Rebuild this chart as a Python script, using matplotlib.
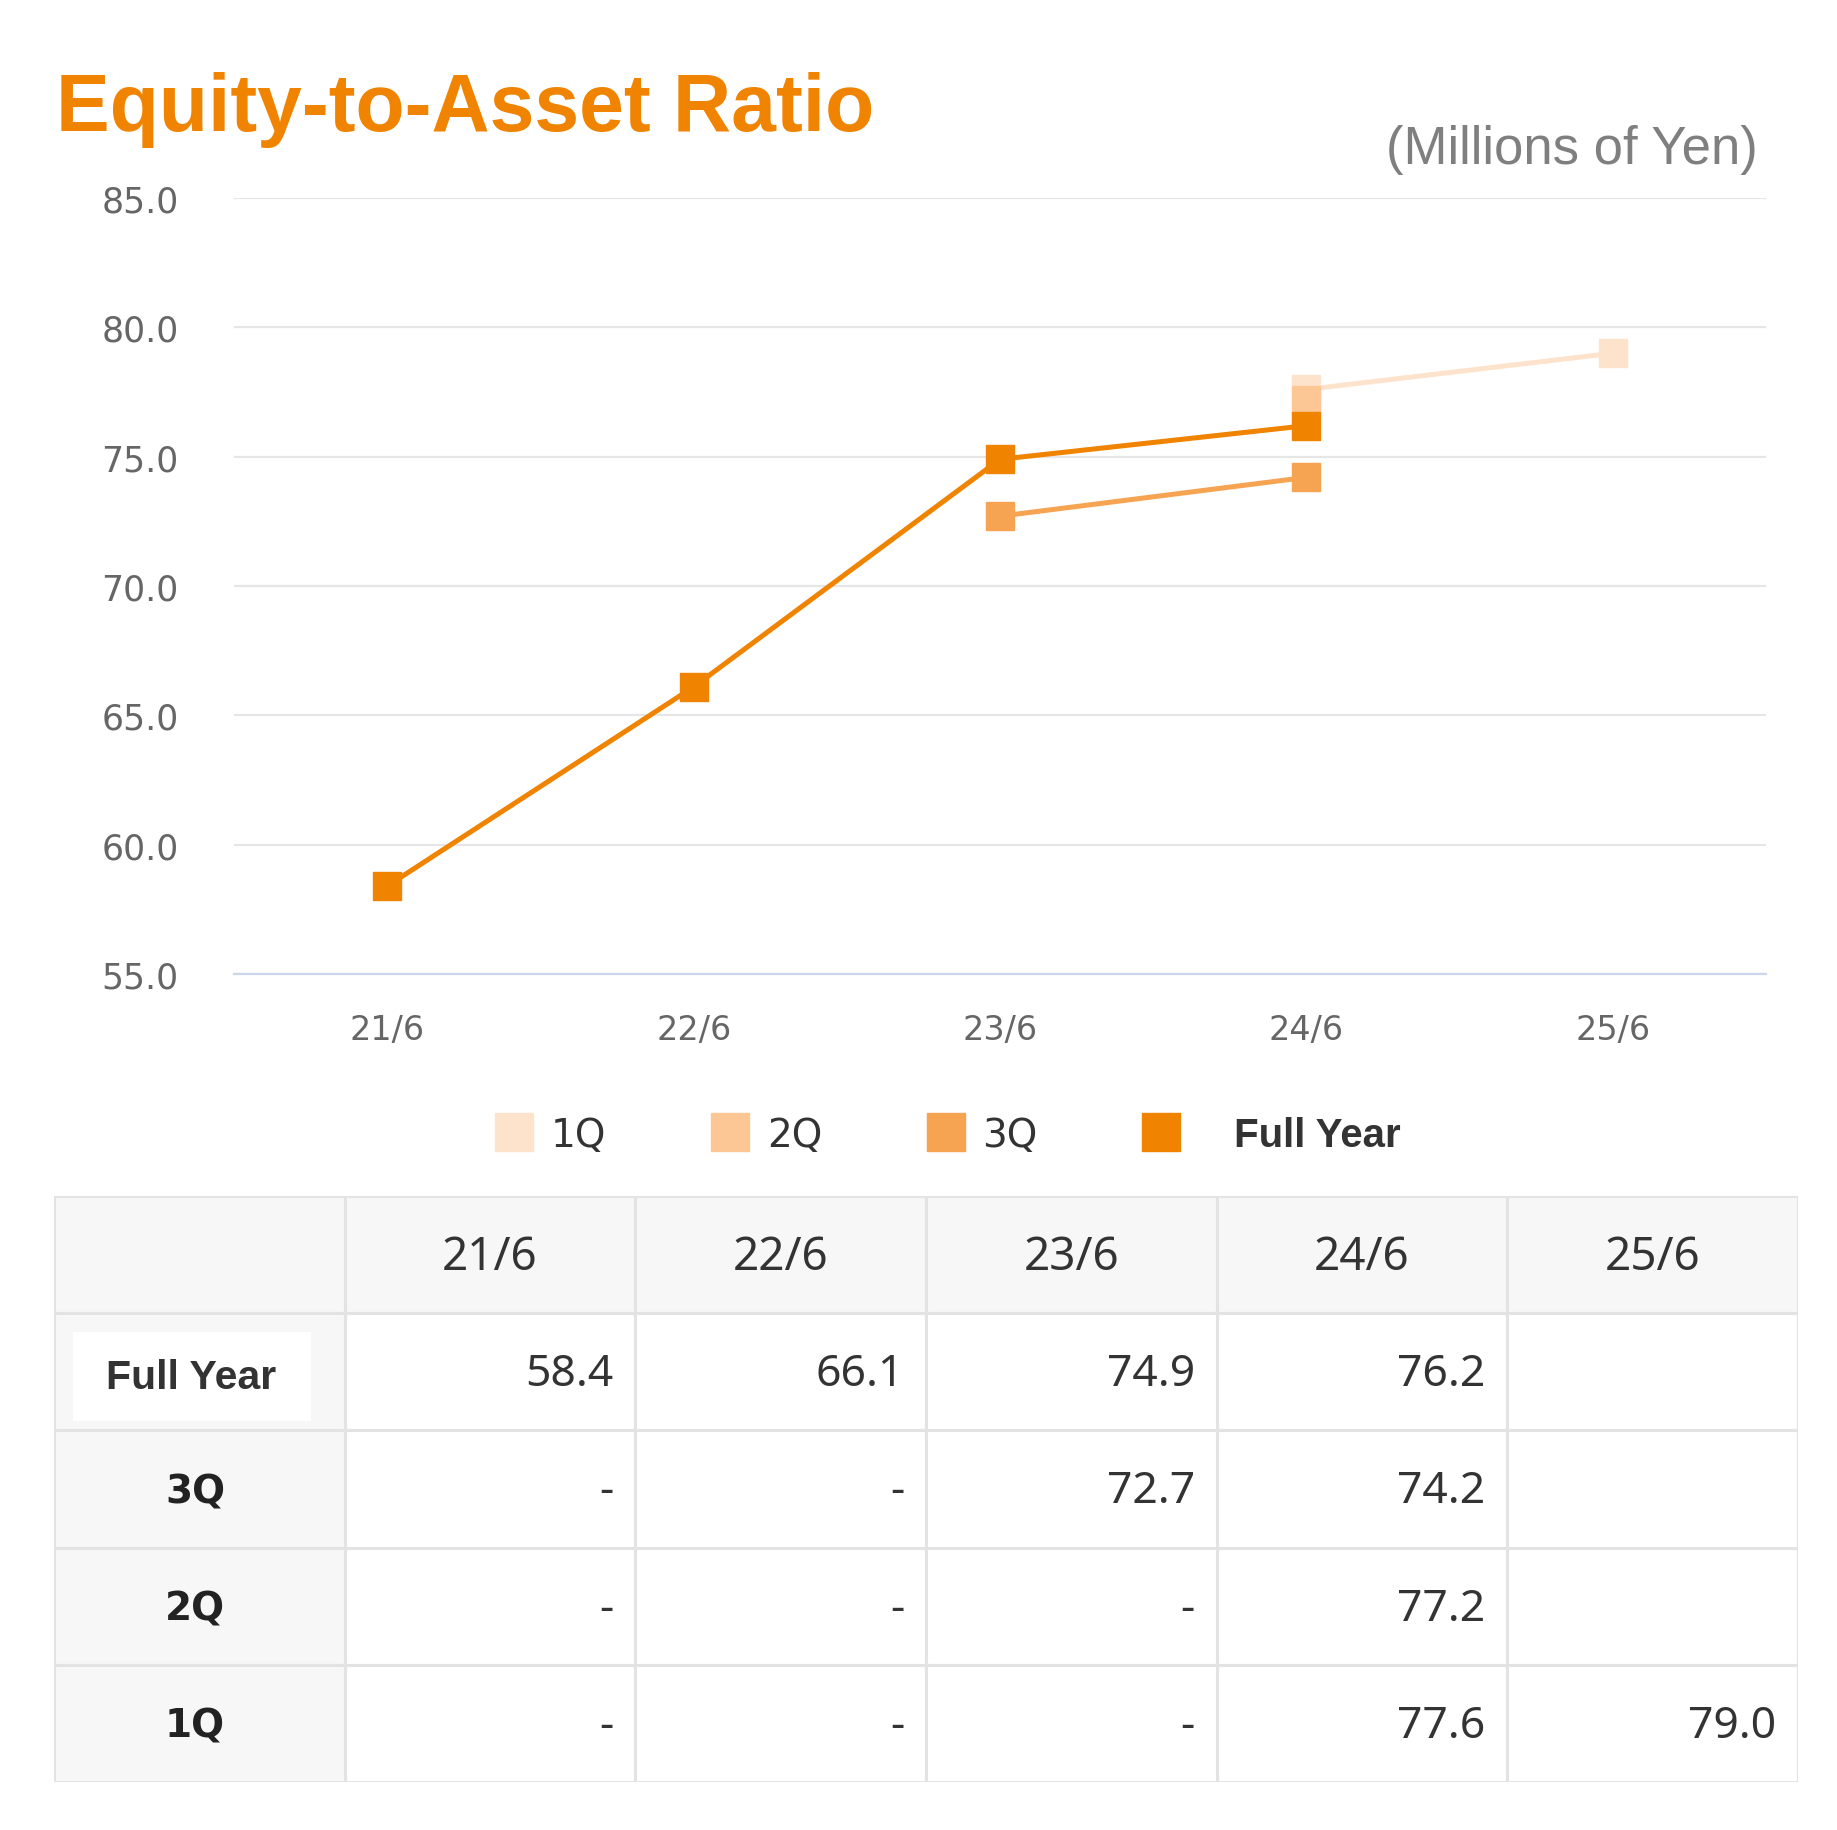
import matplotlib
matplotlib.use("Agg")
import matplotlib.pyplot as plt
from matplotlib.lines import Line2D
from matplotlib.patches import Rectangle
from matplotlib.transforms import Affine2D

years = ["21/6", "22/6", "23/6", "24/6", "25/6"]
full_year = [58.4, 66.1, 74.9, 76.2, None]
q3 = [None, None, 72.7, 74.2, None]
q2 = [None, None, None, 77.2, None]
q1 = [None, None, None, 77.6, 79.0]
yticks = [55, 60, 65, 70, 75, 80, 85]

c_q1 = "#fde3cc"
c_q2 = "#fcc795"
c_q3 = "#f6a352"
c_fy = "#f08300"

def xy(vals):
    xs = [i for i, v in enumerate(vals) if v is not None]
    ys = [v for v in vals if v is not None]
    return xs, ys

fig = plt.figure(figsize=(18.37, 18.31), dpi=100)
fig.patch.set_facecolor("white")

ax = fig.add_axes([0.1274, 0.4675, 0.834, 0.4238])
for vals, col in [(q1, c_q1), (q2, c_q2), (q3, c_q3), (full_year, c_fy)]:
    xs, ys = xy(vals)
    ax.plot(xs, ys, color=col, lw=3.6, marker="s", ms=20, mec=col, mfc=col, zorder=3)

ax.set_xlim(-0.5, 4.5)
ax.set_ylim(55, 85)
ax.set_yticks(yticks)
ax.set_yticklabels(["%.1f" % t for t in yticks])
ax.set_xticks(range(len(years)))
ax.set_xticklabels(years)
ax.grid(axis="y", color="#e6e6e6", lw=1.6, zorder=0)
for s in ["top", "right", "left"]:
    ax.spines[s].set_visible(False)
ax.spines["bottom"].set_color("#ccd6eb")
ax.spines["bottom"].set_linewidth(1.6)
ax.tick_params(length=0, colors="#666666")
ax.tick_params(axis="y", pad=40, labelsize=25)
ax.tick_params(axis="x", pad=28, labelsize=24)

fig.text(0.0306, 0.9284, "Equity-to-Asset Ratio", fontsize=58, fontweight="bold",
         color=c_fy, family="Liberation Sans", va="baseline")
fig.text(0.9566, 0.9104, "(Millions of Yen)", fontsize=38, color="#7f7f7f",
         family="Liberation Sans", ha="right", va="baseline")

# legend
handles = [Line2D([], [], ls="none", marker="s", ms=28, color=c) for c in [c_q1, c_q2, c_q3, c_fy]]
leg = fig.legend(handles, ["1Q", "2Q", "3Q", "Full Year"], ncol=4, loc="center left",
                 bbox_to_anchor=(0.2585, 0.3796), frameon=False, fontsize=28, borderpad=0,
                 handlelength=1.0, handletextpad=0.45, columnspacing=2.68)
for t in leg.get_texts():
    t.set_color("#333333")
fy_txt = leg.get_texts()[3]
fy_txt.set_fontweight("bold")
fy_txt.set_family("Liberation Sans")
fy_txt.set_fontsize(29)
fy_txt.set_transform(fy_txt.get_transform() + Affine2D().translate(36, 0))

# table
rows = ["Full Year", "3Q", "2Q", "1Q"]
table_vals = [full_year, q3, q2, q1]

tx = fig.add_axes([0.0294, 0.0262, 0.9494, 0.32])
tx.set_xlim(0, 6)
tx.set_ylim(5, 0)
tx.axis("off")
border = "#e3e3e3"
for r in range(5):
    for c in range(6):
        fc = "#f7f7f7" if (r == 0 or c == 0) else "white"
        tx.add_patch(Rectangle((c, r), 1, 1, facecolor=fc, edgecolor=border, lw=2.2))
tx.add_patch(Rectangle((0.065, 1.16), 0.82, 0.76, facecolor="white", edgecolor="none"))

tfont = "Noto Sans"
for j, y in enumerate(years):
    tx.text(j + 1.5, 0.52, y, ha="center", va="center", fontsize=33, color="#333333", family=tfont)
for i, name in enumerate(rows):
    if i == 0:
        tx.text(0.47, i + 1.54, name, ha="center", va="center", fontsize=29.5, fontweight="bold",
                color="#333333", family="Liberation Sans")
    else:
        tx.text(0.485, i + 1.52, name, ha="center", va="center", fontsize=28, fontweight="bold",
                color="#222222", family="DejaVu Sans")
    for j, v in enumerate(table_vals[i]):
        if v is None:
            txt = "" if j == 4 else "-"
        else:
            txt = "%.1f" % v
        tx.text(j + 1.925, i + 1.52, txt, ha="right", va="center", fontsize=32,
                color="#333333", family=tfont)

fig.savefig("out.png", dpi=100)
